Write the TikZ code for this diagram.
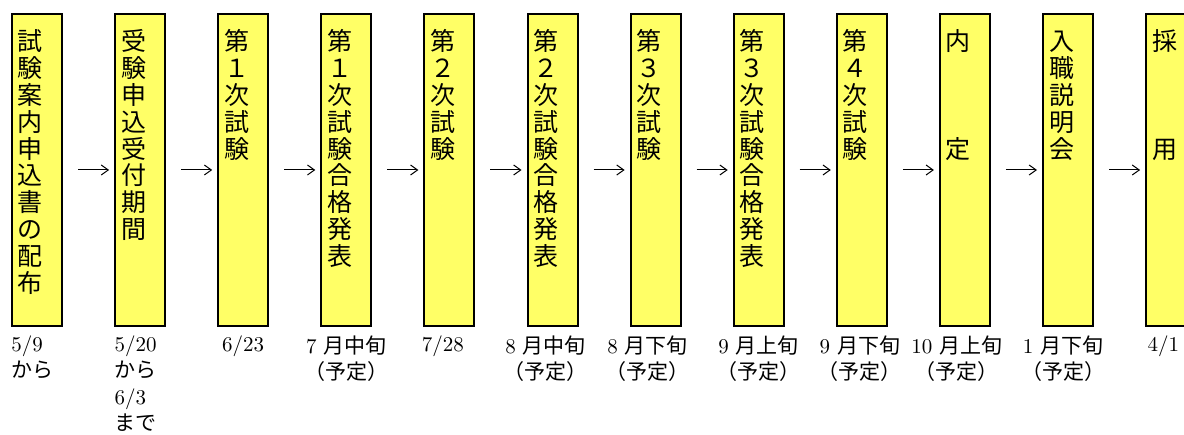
\documentclass[tikz,border=0pt]{standalone}
\usepackage{fontspec}
\newfontfamily\cjk{Noto Sans CJK JP}
\usetikzlibrary{positioning}
\usetikzlibrary{arrows.meta}
\definecolor{stepyellow}{HTML}{FFFF66}
\tikzstyle{stage} = [rectangle, draw, line width=1pt, fill=stepyellow, inner xsep=3pt, inner ysep=0pt,
  text width=19pt, align=left, text height=18.5pt, text depth=137.5pt,
  font=\cjk\fontsize{12.5pt}{13.4pt}\selectfont]
\tikzstyle{date} = [inner sep=0pt, align=center, font=\fontsize{10.5pt}{13.3pt}\selectfont]
\tikzstyle{dateL} = [inner sep=0pt, align=left, font=\fontsize{10.5pt}{13.3pt}\selectfont]
\tikzstyle{next} = [-{Straight Barb[length=3.5pt,width=5pt]}, line width=0.5pt, shorten <=7.5pt, shorten >=2.5pt]

\begin{document}
\begin{tikzpicture}[node distance=25.55pt]
    \useasboundingbox (0,0) rectangle (592pt,217pt);
    \node (guide) at (5.5pt,210.5pt) [stage, anchor=north west] {試\\験\\案\\内\\申\\込\\書\\の\\配\\布};
    \node (entry) [right=of guide, stage] {受\\験\\申\\込\\受\\付\\期\\間};
    \node (exam1) [right=of entry, stage] {第\\１\\次\\試\\験};
    \node (pass1) [right=of exam1, stage] {第\\１\\次\\試\\験\\合\\格\\発\\表};
    \node (exam2) [right=of pass1, stage] {第\\２\\次\\試\\験};
    \node (pass2) [right=of exam2, stage] {第\\２\\次\\試\\験\\合\\格\\発\\表};
    \node (exam3) [right=of pass2, stage] {第\\３\\次\\試\\験};
    \node (pass3) [right=of exam3, stage] {第\\３\\次\\試\\験\\合\\格\\発\\表};
    \node (exam4) [right=of pass3, stage] {第\\４\\次\\試\\験};
    \node (offer) [right=of exam4, stage] {内\\\mbox{}\\\mbox{}\\\mbox{}\\定};
    \node (brief) [right=of offer, stage] {入\\職\\説\\明\\会};
    \node (hire) [right=of brief, stage] {採\\\mbox{}\\\mbox{}\\\mbox{}\\用};

    % arrows between the stages
    \foreach \a/\b in {guide/entry, entry/exam1, exam1/pass1, pass1/exam2, exam2/pass2, pass2/exam3,
                       exam3/pass3, pass3/exam4, exam4/offer, offer/brief, brief/hire}
        \draw [next] (\a) -- (\b);

    % dates
    \node (dGuide) [below right=4pt and 0pt of guide.south west, dateL] {5/9\\{\cjk から}};
    \node (dEntry) [below right=4pt and 0pt of entry.south west, dateL] {5/20\\{\cjk から}\\6/3\\{\cjk まで}};
    \node (dExam1) [below=4pt of exam1, date] {6/23};
    \node (dPass1) [below=4pt of pass1, date] {7 {\cjk 月中旬}\\{\cjk （予定）}};
    \node (dExam2) [below right=4pt and -1pt of exam2.south west, dateL] {7/28};
    \node (dPass2) [below=4pt of pass2, xshift=-3.5pt, date] {8 {\cjk 月中旬}\\{\cjk （予定）}};
    \node (dExam3) [below=4pt of exam3, xshift=-4pt, date] {8 {\cjk 月下旬}\\{\cjk （予定）}};
    \node (dPass3) [below=4pt of pass3, date] {9 {\cjk 月上旬}\\{\cjk （予定）}};
    \node (dExam4) [below=4pt of exam4, xshift=-1pt, date] {9 {\cjk 月下旬}\\{\cjk （予定）}};
    \node (dOffer) [below=4pt of offer, xshift=-4pt, date] {10 {\cjk 月上旬}\\{\cjk （予定）}};
    \node (dBrief) [below=4pt of brief, xshift=-2.5pt, date] {1 {\cjk 月下旬}\\{\cjk （予定）}};
    \node (dHire) [below right=4pt and 1pt of hire.south west, dateL] {4/1};
\end{tikzpicture}
\end{document}
